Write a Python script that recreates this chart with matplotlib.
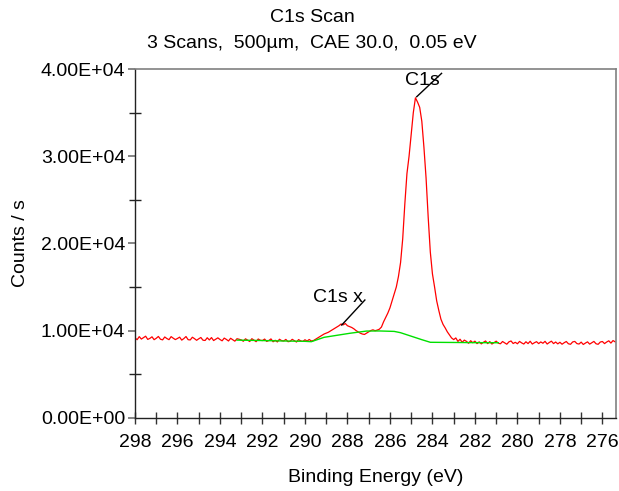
import numpy as np
import matplotlib
matplotlib.use("Agg")
import matplotlib.pyplot as plt
from matplotlib.ticker import MultipleLocator, FuncFormatter

# ---- data ----
energy_start = 298.0
energy_step = 0.1
counts = [
    9150, 8950, 9300, 9020, 9180, 9350, 8980, 9100, 9280, 8950,
    9110, 9320, 9000, 8930, 9260, 9080, 8950, 9300, 9120, 8960,
    9090, 9240, 8900, 9080, 9310, 8950, 8920, 9230, 9070, 8880,
    9050, 9200, 8890, 8860, 9170, 8920, 9190, 8850, 9000, 9160,
    8970, 8820, 9130, 8980, 8800, 9110, 8950, 8780, 9060, 9000,
    8920, 8770, 9050, 8890, 8740, 9060, 8900, 8720, 9030, 8880,
    8850, 9020, 8750, 8860, 9040, 8710, 8880, 8690, 9000, 8840,
    8800, 8980, 8720, 8760, 8990, 8830, 8680, 8960, 8810, 8750,
    8940, 8790, 8970, 8800, 8850, 9000, 9150, 9300, 9450, 9600,
    9700, 9800, 9950, 10100, 10250, 10400, 10550, 10750, 10650, 10800,
    10550, 10450, 10350, 10200, 10000, 9850, 9700, 9600, 9550, 9700,
    9850, 10000, 10080, 9980, 10050, 10150, 10400, 11000, 11500, 12000,
    12600, 13400, 14200, 15000, 16200, 17800, 20500, 24500, 28000, 30000,
    32500, 35000, 36700, 36200, 35600, 34000, 31000, 27500, 23000, 19000,
    16500, 15000, 13400, 12300, 11300, 10700, 10300, 9850, 9500, 9150,
    8960, 9150, 8750, 9000, 8650, 8900, 8760, 8540, 8830, 8600,
    8780, 8500, 8700, 8470, 8650, 8800, 8500, 8730, 8450, 8620,
    8780, 8550, 8480, 8740, 8580, 8430, 8700, 8800, 8510, 8650,
    8480, 8750, 8580, 8450, 8710, 8500, 8770, 8450, 8600, 8720,
    8500, 8690, 8540, 8760, 8450, 8630, 8780, 8500, 8680, 8470,
    8650, 8430, 8600, 8740, 8480, 8420, 8690, 8750, 8500, 8450,
    8670, 8400, 8560, 8700, 8440, 8600, 8750, 8480, 8420, 8680,
    8740, 8500, 8680, 8820, 8560, 8850, 8700,
]
energy = np.round(energy_start - energy_step * np.arange(len(counts)), 1)

bg_energy = [293.2, 292.0, 291.0, 290.0, 289.7, 289.1, 288.5, 287.9, 287.1,
             286.5, 285.8, 285.5, 285.0, 284.5, 284.1, 283.0, 282.0, 280.9]
bg_counts = [8900, 8850, 8800, 8760, 8720, 9220, 9450, 9680, 9940,
             9950, 9900, 9750, 9350, 8950, 8650, 8630, 8610, 8600]

peak_labels = ["C1s", "C1s x"]
peak_points = [(284.74, 36820), (288.27, 10630)]
label_points = [(283.57, 39500), (287.18, 13500)]
text_points = [(284.49, 38730), (288.45, 13840)]

title_lines = ["C1s Scan", "3 Scans,  500µm,  CAE 30.0,  0.05 eV"]
x_label = "Binding Energy (eV)"
y_label = "Counts / s"

# ---- figure ----
plt.rcParams['font.family'] = ['Liberation Sans', 'DejaVu Sans']
FS = 14
fig = plt.figure(figsize=(6.19, 4.91), dpi=100)
ax = fig.add_axes([135/619, 1-417.7/491, (616-135)/619, (417.7-69)/491])

ax.plot(energy, counts, color='#ff0000', lw=0.9)
ax.plot(bg_energy, bg_counts, color='#00e000', lw=1.0)

for lab, pp, lp, tp in zip(peak_labels, peak_points, label_points, text_points):
    ax.plot([pp[0], lp[0]], [pp[1], lp[1]], color='black', lw=1.0)
    ax.text(tp[0], tp[1], lab, ha='center', va='center', fontsize=FS)

ax.set_xlim(298.0, 275.36)
ax.set_ylim(0, 40000)

ax.xaxis.set_major_locator(MultipleLocator(2))
ax.xaxis.set_minor_locator(MultipleLocator(1))
ax.yaxis.set_major_locator(MultipleLocator(10000))
ax.yaxis.set_minor_locator(MultipleLocator(5000))
ax.yaxis.set_major_formatter(FuncFormatter(lambda v, p: "{:.2E}".format(v)))
ax.xaxis.set_major_formatter(FuncFormatter(lambda v, p: "{:d}".format(int(round(v)))))

ax.tick_params(axis='x', which='both', direction='inout', length=8, width=1,
               labelsize=FS, pad=8, color='#333333')
ax.tick_params(axis='y', which='major', direction='out', length=5, width=1.2,
               labelsize=FS, pad=2, color='#707070')
ax.tick_params(axis='y', which='minor', direction='inout', length=9, width=1,
               color='#222222')

for s in ['left', 'bottom']:
    ax.spines[s].set_color('#222222')
    ax.spines[s].set_linewidth(1.0)
for s in ['top', 'right']:
    ax.spines[s].set_color('#808080')
    ax.spines[s].set_linewidth(1.2)

fig.text(312/619, 1-18/491, title_lines[0], ha='center', va='center', fontsize=FS)
fig.text(312/619, 1-44/491, title_lines[1], ha='center', va='center', fontsize=FS)
fig.text(376/619, 1-478/491, x_label, ha='center', va='center', fontsize=FS)
fig.text(21/619, 1-243/491, y_label, ha='center', va='center', rotation=90, fontsize=FS)

fig.savefig("out.png", dpi=100)
